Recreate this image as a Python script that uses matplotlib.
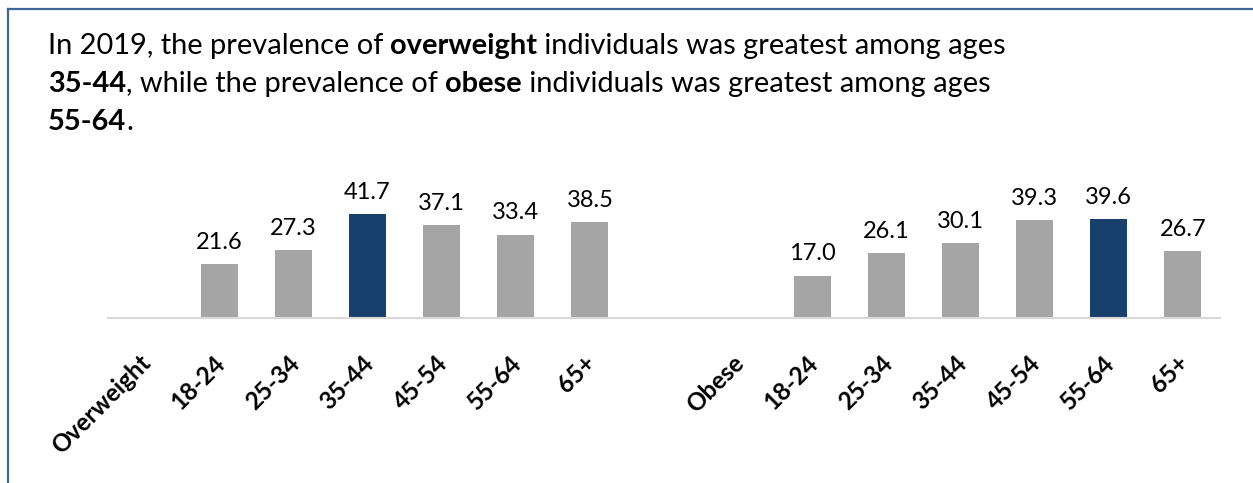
import numpy as np
import matplotlib
matplotlib.use("Agg")
import matplotlib.pyplot as plt
import matplotlib.transforms as mtransforms
from matplotlib.lines import Line2D

plt.rcParams['font.family'] = ['Lato', 'DejaVu Sans']

# ------------------------------------------------------------------
# Dati
# ------------------------------------------------------------------
groups = ["Overweight", "Obese"]
ages = ["18-24", "25-34", "35-44", "45-54", "55-64", "65+"]
overweight = [21.6, 27.3, 41.7, 37.1, 33.4, 38.5]
obese = [17.0, 26.1, 30.1, 39.3, 39.6, 26.7]

gray = "#A5A5A5"
navy = "#17406D"

# categorie: etichetta gruppo (vuota), eta', spazio vuoto, gruppo, eta'
labels = [groups[0]] + ages + [""] + [groups[1]] + ages
values = [np.nan] + overweight + [np.nan, np.nan] + obese
colors = []
for grp in (overweight, obese):
    top = max(grp)
    colors += [navy if v == top else gray for v in grp]
colors = [gray] + colors[:6] + [gray, gray] + colors[6:]

W, H = 1253, 483
fig = plt.figure(figsize=(W / 100, H / 100), dpi=100)
ax = fig.add_axes([108 / W, (H - 318) / H, (1220 - 108) / W, 125 / H])

x = np.arange(len(labels))
bars = ax.bar(x, values, width=0.5, color=colors, edgecolor="none")

for xi, v in zip(x, values):
    if np.isnan(v):
        continue
    ax.annotate(f"{v:.1f}", (xi, v), xytext=(0, 8), textcoords="offset points",
                ha="center", va="bottom", fontsize=17, color="black")

ax.set_xlim(-0.5, len(labels) - 0.5)
ax.set_ylim(0, 50)
ax.set_yticks([])
ax.set_xticks(x)
ax.set_xticklabels(labels, rotation=45, ha="right", va="top",
                   rotation_mode="anchor", fontsize=17.5, fontweight="bold")
ax.tick_params(axis="x", length=0, pad=21)
# sposta un po' le etichette in basso a sinistra
shift = mtransforms.ScaledTranslation(-0.06, -0.04, fig.dpi_scale_trans)
for lab in ax.get_xticklabels():
    lab.set_transform(lab.get_transform() + shift)
for s in ["top", "left", "right"]:
    ax.spines[s].set_visible(False)
ax.spines["bottom"].set_color("#D9D9D9")
ax.spines["bottom"].set_linewidth(1.5)
ax.patch.set_alpha(0)

# ------------------------------------------------------------------
# Titolo con parti in grassetto
# ------------------------------------------------------------------
renderer = fig.canvas.get_renderer()

def rich_line(x0, y0, parts, size=20.9):
    xx = x0
    for txt, bold in parts:
        t = fig.text(xx / W, 1 - y0 / H, txt, fontsize=size, va="baseline",
                     ha="left", fontweight="bold" if bold else "normal")
        xx += t.get_window_extent(renderer=renderer).width

rich_line(48, 54, [("In 2019, the prevalence of", False), (" overweight", True),
                   (" individuals was greatest among ages", False)])
rich_line(48, 92, [("35-44", True), (", while the prevalence of", False),
                   (" obese", True), (" individuals was greatest among ages", False)])
rich_line(48, 130, [("55-64", True), (".", False)])

# cornice (solo lato sinistro e superiore visibili)
fig.add_artist(Line2D([8 / W, 8 / W], [0, 1 - 9 / H], color="#41679A", lw=1.6))
fig.add_artist(Line2D([8 / W, 1], [1 - 9 / H, 1 - 9 / H], color="#41679A", lw=1.6))

fig.savefig("out.png", dpi=100)
